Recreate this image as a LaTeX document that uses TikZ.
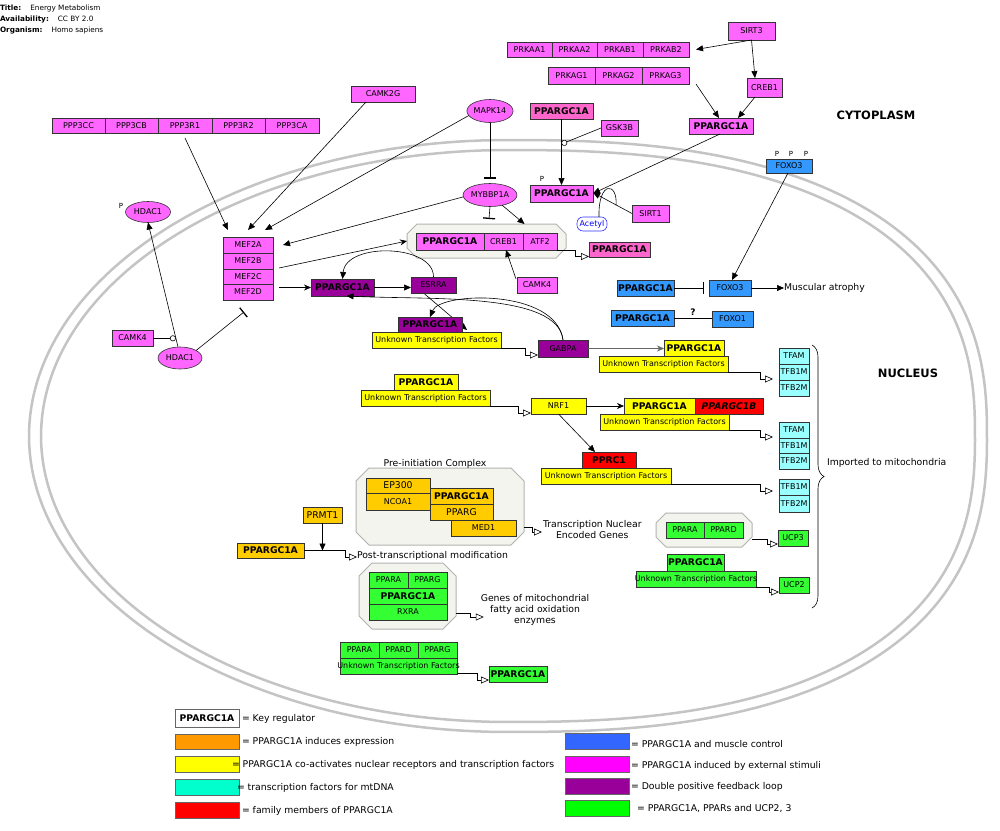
\documentclass[tikz,border=0pt]{standalone}
\usepackage{fontspec}
\setmainfont{DejaVu Sans}
\usetikzlibrary{arrows.meta,shapes.geometric,decorations.pathreplacing,calc}
\definecolor{cMag}{HTML}{FF66FF}
\definecolor{cPink}{HTML}{FF66CC}
\definecolor{cPur}{HTML}{990099}
\definecolor{cYel}{HTML}{FFFF00}
\definecolor{cCyan}{HTML}{99FFFF}
\definecolor{cRed}{HTML}{FF0000}
\definecolor{cOr}{HTML}{FFCC00}
\definecolor{cGr}{HTML}{33FF33}
\definecolor{cBl}{HTML}{3399FF}
\definecolor{cCx}{HTML}{F4F4EE}
\definecolor{cMem}{HTML}{C4C4C4}
\definecolor{lOr}{HTML}{FF9900}
\definecolor{lCy}{HTML}{00FFCC}
\definecolor{lBl}{HTML}{3366FF}
\definecolor{lMa}{HTML}{FF00FF}
\definecolor{lGr}{HTML}{00FF00}
\pgfdeclarelayer{bg}
\pgfsetlayers{bg,main}
\newcommand\bx[7][]{\node[bx,#1,minimum width={(#5-#3)*1pt},minimum height={(#6-#4)*1pt}] (#2) at ({(#3+#5)/2},{(#4+#6)/2}) {\makebox[0pt]{#7}};}
\newcommand\cx[6]{%
  \draw[cplx] (#2+#6,#3) -- (#4-#6,#3) -- (#4,#3+#6) -- (#4,#5-#6) -- (#4-#6,#5) -- (#2+#6,#5) -- (#2,#5-#6) -- (#2,#3+#6) -- cycle;
  \node[inner sep=0pt,outer sep=0pt,minimum width={(#4-#2)*1pt},minimum height={(#5-#3)*1pt}] (#1) at ({(#2+#4)/2},{(#3+#5)/2}) {};}
% membrane outline: left half elliptic, right half slightly squarer
\newcommand\memb[2]{%
  \draw[membrane] plot[domain=-90:270,samples=240,variable=\t]
   ({508+#1*cos(\t)*(abs(cos(\t))+0.00001)^(cos(\t)>0 ? -0.2 : 0)},
    {436+#2*sin(\t)*(abs(sin(\t))+0.00001)^(cos(\t)>0 ? -0.2 : 0)}) -- cycle;}
\tikzset{
  bx/.style={draw=black!80,line width=0.6pt,inner sep=0pt,outer sep=0pt,font=\fontsize{8}{9.6}\selectfont},
  bld/.style={font=\bfseries\fontsize{9.2}{11}\selectfont},
  big/.style={font=\fontsize{9.3}{11}\selectfont},
  lbl/.style={inner sep=0pt,outer sep=0pt,font=\fontsize{9.3}{11}\selectfont,align=center},
  hdr/.style={inner sep=0pt,outer sep=0pt,font=\fontsize{7.3}{8}\selectfont},
  plbl/.style={inner sep=0pt,font=\fontsize{7}{8}\selectfont},
  arr/.style={-{Triangle[length=7pt,width=6pt]},line width=0.6pt},
  sarr/.style={-{Stealth[length=7pt,width=6pt]},line width=0.6pt},
  tr/.style={-{Triangle[open,length=8pt,width=7pt]},line width=0.6pt},
  inh/.style={-{Bar[width=12pt,line width=1.3pt]},line width=0.6pt},
  circ/.style={-{Circle[length=6pt,fill=white]},line width=0.6pt},
  membrane/.style={draw=cMem,line width=2.5pt},
  cplx/.style={fill=cCx,draw=gray!60,line width=1pt},
}
\begin{document}
\begin{tikzpicture}[x=1pt,y=-1pt]
\useasboundingbox (0,0) rectangle (1000,830);
\begin{pgfonlayer}{bg}
\fill[white] (0,0) rectangle (1000,830);
\memb{479}{296}
\memb{467}{286}
\end{pgfonlayer}

% header
\node[hdr,anchor=west] (h1) at (0,8) {\textbf{Title:}\hspace{9pt}Energy Metabolism};
\node[hdr,anchor=west] (h2) at (0,20) {\textbf{Availability:}\hspace{9pt}CC BY 2.0};
\node[hdr,anchor=west] (h3) at (0,31) {\textbf{Organism:}\hspace{9pt}Homo sapiens};
\node[font=\bfseries\fontsize{11.5}{13}\selectfont] (cyto) at (876,115) {CYTOPLASM};
\node[font=\bfseries\fontsize{11.5}{13}\selectfont] (nucl) at (908,373) {NUCLEUS};

% complexes
\cx{cplx1}{407}{224}{566}{258}{10}
\cx{cplx2}{356}{468}{524}{545}{13}
\cx{cplx3}{359}{563}{456}{629}{13}
\cx{cplx4}{656}{513}{752}{547}{10}

% magenta
\bx[fill=cMag]{ppp3cc}{52}{118}{105}{133}{PPP3CC}
\bx[fill=cMag]{ppp3cb}{105}{118}{158}{133}{PPP3CB}
\bx[fill=cMag]{ppp3r1}{158}{118}{212}{133}{PPP3R1}
\bx[fill=cMag]{ppp3r2}{212}{118}{265}{133}{PPP3R2}
\bx[fill=cMag]{ppp3ca}{265}{118}{319}{133}{PPP3CA}
\bx[fill=cMag]{camk2g}{351}{86}{415}{102}{CAMK2G}
\node[bx,ellipse,fill=cMag,minimum width=44pt,minimum height=23pt] (mapk14) at (490,111) {MAPK14};
\node[bx,ellipse,fill=cMag,minimum width=44pt,minimum height=23pt] (mybbp1a) at (490,195) {MYBBP1A};
\node[bx,ellipse,fill=cMag,minimum width=45pt,minimum height=21pt] (hdac1t) at (148,212) {HDAC1};
\node[plbl] (p0) at (121,206) {P};
\node[bx,ellipse,fill=cMag,minimum width=44pt,minimum height=22pt] (hdac1b) at (180,358) {HDAC1};
\bx[fill=cMag]{camk4l}{112}{330}{153}{346}{CAMK4}
\bx[fill=cMag]{mef2a}{223}{237}{273}{253}{MEF2A}
\bx[fill=cMag]{mef2b}{223}{253}{273}{269}{MEF2B}
\bx[fill=cMag]{mef2c}{223}{269}{273}{284}{MEF2C}
\bx[fill=cMag]{mef2d}{223}{284}{273}{300}{MEF2D}
\bx[fill=cMag]{sirt3}{728}{22}{775}{40}{SIRT3}
\bx[fill=cMag]{prkaa1}{507}{42}{552}{57}{PRKAA1}
\bx[fill=cMag]{prkaa2}{552}{42}{597}{57}{PRKAA2}
\bx[fill=cMag]{prkab1}{597}{42}{643}{57}{PRKAB1}
\bx[fill=cMag]{prkab2}{643}{42}{689}{57}{PRKAB2}
\bx[fill=cMag]{prkag1}{548}{67}{595}{84}{PRKAG1}
\bx[fill=cMag]{prkag2}{595}{67}{642}{84}{PRKAG2}
\bx[fill=cMag]{prkag3}{642}{67}{689}{84}{PRKAG3}
\bx[fill=cMag]{creb1t}{747}{78}{782}{97}{CREB1}
\bx[fill=cMag,bld]{pgctr}{689}{118}{753}{134}{PPARGC1A}
\bx[fill=cPink,bld]{pgctop}{530}{103}{593}{119}{PPARGC1A}
\bx[fill=cMag]{gsk3b}{601}{120}{638}{136}{GSK3B}
\bx[fill=cMag,bld]{pgcP}{530}{185}{593}{202}{PPARGC1A}
\node[plbl] (p1) at (542,179) {P};
\bx[fill=cMag]{sirt1}{632}{205}{669}{222}{SIRT1}
\bx[fill=white,draw=blue!80,rounded corners=6pt,text=blue]{acetyl}{577}{217}{607}{231}{Acetyl}
\bx[fill=cMag,bld]{pgcc}{416}{233}{484}{250}{PPARGC1A}
\bx[fill=cMag]{creb1m}{484}{233}{523}{250}{CREB1}
\bx[fill=cMag]{atf2}{523}{233}{557}{250}{ATF2}
\bx[fill=cPink,bld]{pgcpk}{589}{242}{650}{257}{PPARGC1A}
\bx[fill=cMag]{camk4m}{517}{277}{557}{293}{CAMK4}

% purple
\bx[fill=cPur,bld]{pgcpu1}{311}{279}{374}{296}{PPARGC1A}
\bx[fill=cPur]{esrra}{411}{277}{456}{293}{ESRRA}
\bx[fill=cPur,bld]{pgcpu2}{398}{317}{462}{332}{PPARGC1A}
\bx[fill=cYel]{utf1}{372}{332}{501}{348}{Unknown Transcription Factors}
\bx[fill=cPur]{gabpa}{538}{340}{588}{357}{GABPA}

% blue
\bx[fill=cBl]{foxo3t}{766}{159}{812}{173}{FOXO3}
\node[plbl] (p2) at (777,154) {P};
\node[plbl] (p3) at (791,154) {P};
\node[plbl] (p4) at (806,154) {P};
\bx[fill=cBl]{foxo3m}{709}{280}{751}{296}{FOXO3}
\bx[fill=cBl,bld]{pgcb1}{617}{280}{674}{296}{PPARGC1A}
\bx[fill=cBl,bld]{pgcb2}{611}{310}{674}{326}{PPARGC1A}
\bx[fill=cBl]{foxo1}{712}{311}{753}{327}{FOXO1}
\node[inner sep=0pt,font=\bfseries\fontsize{9}{10}\selectfont] (qm) at (693,312) {?};
\node[lbl,anchor=west] (atro) at (784,288) {Muscular atrophy};

% yellow / red / cyan
\bx[fill=cYel,bld]{pgcy1}{664}{340}{724}{356}{PPARGC1A}
\bx[fill=cYel]{utf2}{599}{356}{728}{372}{Unknown Transcription Factors}
\bx[fill=cCyan]{tf1a}{779}{348}{809}{364}{TFAM}
\bx[fill=cCyan]{tf1b}{779}{364}{809}{380}{TFB1M}
\bx[fill=cCyan]{tf1c}{779}{380}{809}{396}{TFB2M}
\bx[fill=cYel,bld]{pgcy2}{394}{374}{458}{390}{PPARGC1A}
\bx[fill=cYel]{utf3}{361}{390}{490}{406}{Unknown Transcription Factors}
\bx[fill=cYel]{nrf1}{531}{398}{586}{414}{NRF1}
\bx[fill=cYel,bld]{pgcy3}{624}{398}{695}{414}{PPARGC1A}
\bx[fill=cRed,bld]{pgc1b}{695}{398}{763}{414}{\itshape PPARGC1B}
\bx[fill=cYel]{utf4}{600}{414}{729}{430}{Unknown Transcription Factors}
\bx[fill=cCyan]{tf2a}{779}{422}{809}{438}{TFAM}
\bx[fill=cCyan]{tf2b}{779}{438}{809}{453}{TFB1M}
\bx[fill=cCyan]{tf2c}{779}{453}{809}{469}{TFB2M}
\bx[fill=cRed,bld]{pprc1}{582}{452}{636}{468}{PPRC1}
\bx[fill=cYel]{utf5}{541}{468}{671}{484}{Unknown Transcription Factors}
\bx[fill=cCyan]{tf3a}{779}{479}{809}{495}{TFB1M}
\bx[fill=cCyan]{tf3b}{779}{495}{809}{512}{TFB2M}
\coordinate (brt) at (812,345);
\coordinate (brb) at (812,608);
\draw[decorate,decoration={brace,amplitude=12pt},line width=0.6pt] (brt) -- (brb);
\node[lbl,anchor=west] (imp) at (827,463) {Imported to mitochondria};

% orange
\node[lbl] (pic) at (435,464) {Pre-initiation Complex};
\bx[fill=cOr,big]{ep300}{366}{478}{430}{493}{EP300}
\bx[fill=cOr]{ncoa1}{366}{493}{430}{510}{NCOA1}
\bx[fill=cOr,bld]{pgco1}{430}{488}{493}{504}{PPARGC1A}
\bx[fill=cOr,big]{pparg1}{430}{504}{493}{520}{PPARG}
\bx[fill=cOr]{med1}{451}{520}{516}{536}{MED1}
\node[lbl,anchor=west] (tneg) at (543,529.5) {Transcription Nuclear\\Encoded Genes};
\bx[fill=cOr,big]{prmt1}{303}{507}{342}{523}{PRMT1}
\bx[fill=cOr,bld]{pgco2}{237}{543}{304}{558}{PPARGC1A}
\node[lbl,anchor=west] (ptm) at (357,556) {Post-transcriptional modification};

% green
\bx[fill=cGr]{ppara1}{369}{572}{408}{588}{PPARA}
\bx[fill=cGr]{pparg2}{408}{572}{447}{588}{PPARG}
\bx[fill=cGr,bld]{pgcg1}{369}{588}{447}{604}{PPARGC1A}
\bx[fill=cGr]{rxra}{369}{604}{447}{620}{RXRA}
\node[lbl] (gmf) at (535,610) {Genes of mitochondrial\\fatty acid oxidation\\enzymes};
\bx[fill=cGr]{ppara2}{340}{642}{379}{658}{PPARA}
\bx[fill=cGr]{ppard2}{379}{642}{418}{658}{PPARD}
\bx[fill=cGr]{pparg3}{418}{642}{457}{658}{PPARG}
\bx[fill=cGr]{utf6}{340}{658}{457}{674}{Unknown Transcription Factors}
\bx[fill=cGr,bld]{pgcg2}{489}{666}{547}{682}{PPARGC1A}
\bx[fill=cGr]{ppara3}{666}{522}{704}{538}{PPARA}
\bx[fill=cGr]{ppard3}{704}{522}{743}{538}{PPARD}
\bx[fill=cGr]{ucp3}{778}{530}{808}{546}{UCP3}
\bx[fill=cGr,bld]{pgcg3}{667}{554}{724}{571}{PPARGC1A}
\bx[fill=cGr]{utf7}{636}{571}{756}{587}{Unknown Transcription Factors}
\bx[fill=cGr]{ucp2}{779}{577}{809}{593}{UCP2}

% ---------- connectors
\draw[arr] ([yshift=-5pt]ppp3r1.south) -- ([xshift=-20pt,yshift=7pt]mef2a.north);
\draw[arr] ([xshift=-17pt]camk2g.south) -- ([yshift=7pt]mef2a.north);
\draw[arr] (mapk14.192) -- ([xshift=17pt,yshift=7pt]mef2a.north);
\draw[arr] (mybbp1a.184) -- ([xshift=10pt]mef2a.east);
\draw[inh] (mapk14.south) -- ([yshift=5pt]mybbp1a.north);
\draw[inh] (mybbp1a.south) -- ([xshift=2.5pt,yshift=5pt]cplx1.north);
\draw[arr] (mybbp1a.-40) -- ([xshift=38pt]cplx1.north);
\draw[sarr] ([xshift=6pt,yshift=-7pt]mef2b.east) -- (cplx1.west);
\draw[sarr] (pgcpu1.west -| mef2d.east) ++(6,0) -- (pgcpu1.west);
\draw[arr] (pgcpu1.east) -- (pgcpu1.east -| esrra.west);
\draw[arr] (esrra.north) .. controls (434,244) and (346,242) .. (pgcpu1.north);
\begin{pgfonlayer}{bg}
\draw[arr] ([xshift=-10pt]esrra.south) -- ([xshift=5pt,yshift=2pt]pgcpu2.south east);
\end{pgfonlayer}
\draw[arr] (gabpa.north) .. controls (558,292) and (430,300) .. ([xshift=4pt]pgcpu1.south);
\draw[arr] (gabpa.north) .. controls (556,288) and (440,292) .. (pgcpu2.north);
\draw[tr] (utf1.south east) -- ++(24,0) |- ([yshift=-6.5pt]gabpa.west);
\draw[sarr,black!60] (gabpa.east) -- (gabpa.east -| pgcy1.west);
\draw[tr] (utf2.south east) -- ++(32,0) |- ([xshift=-6pt,yshift=-7pt]tf1b.west);
\draw[tr] (utf3.south east) -- ++(28,0) |- ([yshift=-7pt]nrf1.west);
\draw[sarr] (nrf1.east) -- (pgcy3.west);
\draw[arr] (nrf1.south) -- ([xshift=-14pt]pprc1.north);
\draw[tr] (utf4.south east) -- ++(31,0) |- ([xshift=-6pt,yshift=8.5pt]tf2b.west);
\draw[tr] (utf5.south east) -- ++(89,0) |- ([xshift=-6pt,yshift=-4pt]tf3a.west);
\draw[tr] (atf2.south east) -- ++(18,0) |- ([yshift=-7pt]pgcpk.west);
\draw[arr] ([xshift=-1pt,yshift=-2pt]camk4m.north west) -- ([xshift=2.5pt]creb1m.south);

% top
\draw[arr] (sirt3.south) -- ([xshift=7pt]prkab2.east);
\draw[arr] (sirt3.south) -- ([xshift=-9.5pt]creb1t.north);
\draw[arr] ([xshift=7pt]prkag3.south east) -- ([xshift=-2pt]pgctr.north);
\draw[arr] ([xshift=-9.5pt]creb1t.south) -- ([xshift=17pt]pgctr.north);
\draw[arr] ([xshift=-1pt]pgctr.south) -- (pgcP.east);
\draw[arr] (pgctop.south) -- (pgcP.north);
\coordinate (gskc) at ($(pgctop.south)+(0,25)$);
\draw[circ] (gsk3b.west) -- (gskc);
\draw[arr] (sirt1.west) -- ([yshift=1pt]pgcP.east);
\coordinate (sl) at ($(sirt1.west)!0.41!(pgcP.east)$);
\draw[line width=0.6pt] ([xshift=7pt]acetyl.north) .. controls (598,180) and (618,182) .. (sl);

% HDAC
\coordinate (hb) at ([xshift=-2pt]hdac1b.north);
\draw[arr] (hb) -- (hdac1t.south);
\coordinate (hc) at ($(hb)!0.07!(hdac1t.south)$);
\draw[circ] (camk4l.east |- hc) -- (hc);
\draw[inh] (hdac1b.25) -- ([xshift=-4pt,yshift=-12pt]mef2d.south);

% blue
\draw[arr] ([xshift=-1pt]foxo3t.south) -- ([xshift=2pt]foxo3m.north);
\draw[inh] (pgcb1.east) -- ([xshift=-5pt]foxo3m.west);
\draw[arr] (foxo3m.east) -- (atro.west);
\draw[line width=0.6pt] (pgcb2.east) -- (pgcb2.east -| foxo1.west);

% orange
\draw[tr] ([yshift=18pt]cplx2.south east) -- ++(8,0) |- ([xshift=-1pt,yshift=-2.5pt]tneg.west);
\coordinate (pm) at (pgco2.east -| prmt1.south);
\draw[tr] (pgco2.east) -- ++(41,0) |- ([yshift=-1pt]ptm.west);
\draw[arr] (prmt1.south) -- (pm);

% green
\draw[tr] ([yshift=16pt]cplx3.south east) -- ++(14,0) |- ([xshift=3pt,yshift=-7pt]gmf.west);
\draw[tr] ([yshift=1pt]utf6.south east) -- ++(20,0) |- ([yshift=-6pt]pgcg2.west);
\draw[tr] ([yshift=8pt]cplx4.south east) -- ++(15,0) |- ([yshift=-6pt]ucp3.west);
\draw[tr] (utf7.south east) -- ++(13,0) |- ([yshift=-7pt]ucp2.west);

% legend
\bx[fill=white,bld,draw=black!60]{lg1}{175}{709}{239}{727}{PPARGC1A}
\node[lbl,anchor=west] (lt1) at (242,719) {= Key regulator};
\bx[fill=lOr,draw=black!60]{lg2}{175}{734}{239}{749}{}
\node[lbl,anchor=west] (lt2) at (242,742) {= PPARGC1A induces expression};
\bx[fill=cYel,draw=black!60]{lg3}{175}{756}{239}{772}{}
\node[lbl,anchor=west] (lt3) at (232,765) {= PPARGC1A co-activates nuclear receptors and transcription factors};
\bx[fill=lCy,draw=black!60]{lg4}{175}{779}{239}{795}{}
\node[lbl,anchor=west] (lt4) at (237,788) {= transcription factors for mtDNA};
\bx[fill=cRed,draw=black!60]{lg5}{175}{802}{239}{818}{}
\node[lbl,anchor=west] (lt5) at (242,811) {= family members of PPARGC1A};
\bx[fill=lBl,draw=black!60]{lg6}{565}{733}{629}{749}{}
\node[lbl,anchor=west] (lt6) at (631,744) {= PPARGC1A and muscle control};
\bx[fill=lMa,draw=black!60]{lg7}{565}{756}{629}{772}{}
\node[lbl,anchor=west] (lt7) at (631,766) {= PPARGC1A induced by external stimuli};
\bx[fill=cPur,draw=black!60]{lg8}{565}{778}{629}{794}{}
\node[lbl,anchor=west] (lt8) at (631,787) {= Double positive feedback loop};
\bx[fill=lGr,draw=black!60]{lg9}{565}{800}{629}{816}{}
\node[lbl,anchor=west] (lt9) at (637,808) {= PPARGC1A, PPARs and UCP2, 3};
\end{tikzpicture}
\end{document}
